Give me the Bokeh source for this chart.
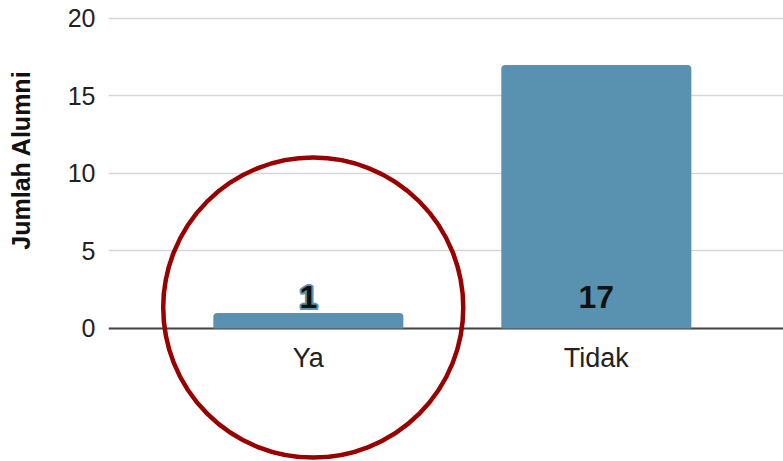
from bokeh.plotting import figure
from bokeh.models import Range1d, FixedTicker, Span, Title, ColumnDataSource
from bokeh.core.properties import value
from bokeh.embed import file_html
from bokeh.resources import INLINE

categories = ["Ya", "Tidak"]
counts = [1, 17]
count_labels = [str(c) for c in counts]
y_ticks = [0, 5, 10, 15, 20]
axis_title = "Jumlah Alumni"

BAR = "#5991b0"
FONT = "Liberation Sans"

xs = list(range(len(categories)))
src = ColumnDataSource(dict(x=xs, top=counts, label=count_labels))

p = figure(width=783, height=461, output_backend="svg", toolbar_location=None,
           x_range=Range1d(-0.694, 1.65), y_range=Range1d(-8.581, 21.161),
           min_border_left=108, min_border_right=0, min_border_top=0, min_border_bottom=0)
p.outline_line_color = None
p.background_fill_color = "white"

# grid
p.xgrid.grid_line_color = None
p.ygrid.ticker = FixedTicker(ticks=y_ticks)
p.ygrid.grid_line_color = "#d6d6d6"
p.ygrid.grid_line_width = 1.6

# y axis (blank axis label only reserves room for the title)
p.yaxis.ticker = FixedTicker(ticks=y_ticks)
p.yaxis.axis_line_color = None
p.yaxis.major_tick_line_color = None
p.yaxis.minor_tick_line_color = None
p.yaxis.major_label_text_font = FONT
p.yaxis.major_label_text_font_size = "25px"
p.yaxis.major_label_text_color = "#222222"
p.yaxis.major_label_standoff = 7
p.yaxis.axis_label = " "
p.yaxis.axis_label_text_font_size = "10px"
p.yaxis.axis_label_standoff = 14

# x axis at zero
p.xaxis.fixed_location = 0
p.xaxis.ticker = FixedTicker(ticks=xs)
p.xaxis.major_label_overrides = {i: c for i, c in zip(xs, categories)}
p.xaxis.axis_line_color = None
p.xaxis.major_tick_line_color = None
p.xaxis.minor_tick_line_color = None
p.xaxis.major_label_text_font = FONT
p.xaxis.major_label_text_font_size = "27px"
p.xaxis.major_label_text_color = "#222222"
p.xaxis.major_label_standoff = 9

base = Span(location=0, dimension="width", line_color="#444444", line_width=1.8, level="underlay")
p.add_layout(base)

p.vbar(x="x", top="top", bottom=0, width=0.66, source=src, fill_color=BAR,
       line_color=None, border_radius=(4, 4, 0, 0))

# value labels: blue halo layers, then solid layer
halo = [(-2, 0), (2, 0), (0, -2), (0, 2), (-1.5, -1.5), (1.5, -1.5), (-1.5, 1.5), (1.5, 1.5)]
for dx, dy in halo:
    p.text(x="x", y=0, text="label", source=src, x_offset=dx, y_offset=-31 + dy,
           text_font=value(FONT), text_font_style="bold", text_font_size="32px",
           text_align="center", text_baseline="alphabetic", text_color=BAR)
p.text(x="x", y=0, text="label", source=src, y_offset=-31,
       text_font=value(FONT), text_font_style="bold", text_font_size="32px",
       text_align="center", text_baseline="alphabetic", text_color="#111111")

# highlight circle around "Ya"
p.circle(x=[xs[0] + 0.017], y=[1.35], radius=0.521, fill_color=None,
         line_color="#990000", line_width=4.5)

ylab = Title(text=axis_title, align="right", offset=70, standoff=4,
             text_font=FONT, text_font_style="bold", text_font_size="25px",
             text_color="#111111")
p.add_layout(ylab, "left")

open("out.html", "w").write(file_html(p, INLINE))
